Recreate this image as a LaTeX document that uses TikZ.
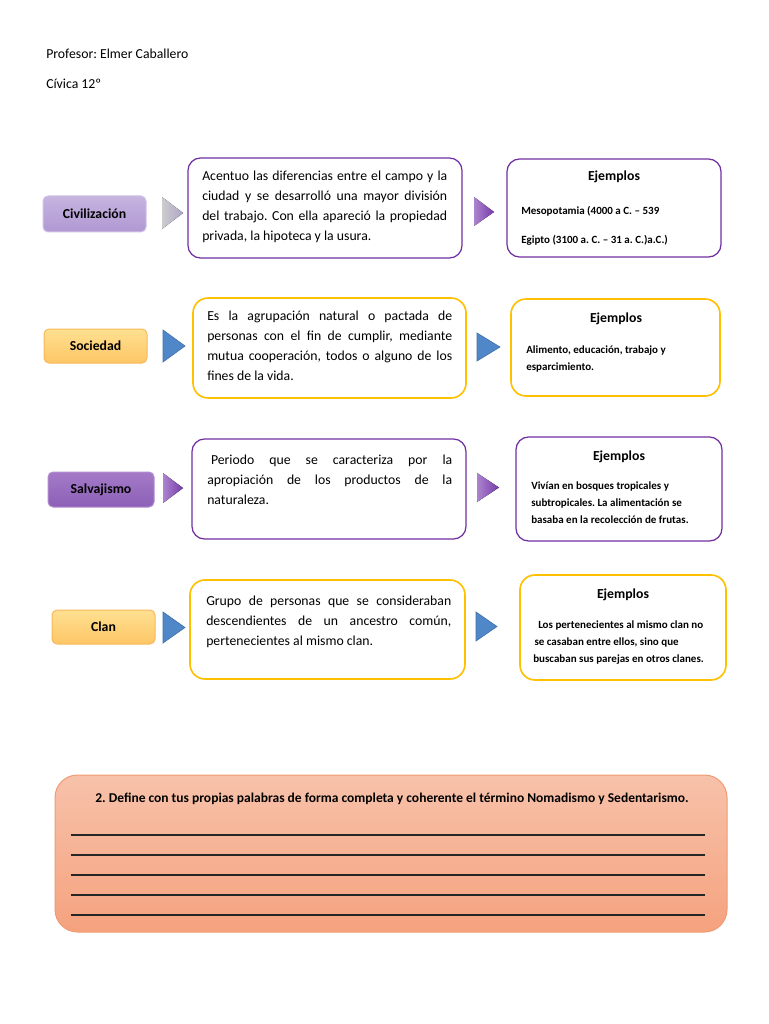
\documentclass[tikz,border=0pt]{standalone}
\usepackage{fontspec}
\setmainfont{Carlito}
\frenchspacing
\hyphenpenalty=10000
\exhyphenpenalty=10000
\definecolor{purp}{RGB}{112,48,160}
\definecolor{gold}{RGB}{255,192,0}
\definecolor{civtop}{RGB}{198,180,224}
\definecolor{civbot}{RGB}{176,152,210}
\definecolor{civdraw}{RGB}{208,194,230}
\definecolor{oratop}{RGB}{255,224,145}
\definecolor{orabot}{RGB}{253,198,102}
\definecolor{oradraw}{RGB}{248,186,88}
\definecolor{saltop}{RGB}{164,122,200}
\definecolor{salbot}{RGB}{140,96,182}
\definecolor{saldraw}{RGB}{178,142,208}
\definecolor{triblue}{RGB}{79,135,200}
\definecolor{triblued}{RGB}{66,114,172}
\definecolor{btop}{RGB}{247,194,170}
\definecolor{bbot}{RGB}{245,162,126}
\definecolor{bdraw}{RGB}{240,155,115}
\newcommand\nbox[7]{\node[#6, minimum width={(#4-#2)*0.8pt}, minimum height={(#5-#3)*0.8pt}] (#1) at ({(#2+#4)/2},{(#3+#5)/2}) {#7};}
\begin{document}
\begin{tikzpicture}[x=0.8pt,y=-0.8pt,
  lab/.style={rounded corners=4pt, inner sep=0pt, font=\bfseries\fontsize{11}{13}\selectfont},
  civlab/.style={lab, top color=civtop, bottom color=civbot, draw=civdraw, line width=0.8pt},
  oralab/.style={lab, top color=oratop, bottom color=orabot, draw=oradraw, line width=0.8pt},
  sallab/.style={lab, top color=saltop, bottom color=salbot, draw=saldraw, line width=0.8pt},
  pbox/.style={draw=purp, line width=1pt, fill=white, rounded corners=10pt, inner sep=0pt},
  gbox/.style={draw=gold, line width=1.3pt, fill=white, rounded corners=12pt, inner sep=0pt},
  desc/.style={anchor=north west, inner sep=0pt, text width=196pt, align=justify, font=\fontsize{11}{16}\selectfont},
  ejh/.style={anchor=base, inner sep=0pt, font=\bfseries\fontsize{11}{13}\selectfont},
  ejt/.style={anchor=north west, inner sep=0pt, align=left, font=\bfseries\fontsize{8.8}{13.6}\selectfont},
  gtri/.style={left color=black!20, right color={rgb,255:red,175;green,165;blue,200}},
  ptri/.style={left color={rgb,255:red,172;green,132;blue,206}, right color={rgb,255:red,118;green,58;blue,170}},
  btri/.style={fill=triblue, draw=triblued, line width=0.5pt},
  hdr/.style={anchor=base west, inner sep=0pt, font=\fontsize{11}{13}\selectfont}
]
\useasboundingbox[fill=white] (0,0) rectangle (768,1024);

% header
\node[hdr] (prof) at (46,59) {Profesor: Elmer Caballero};
\node[hdr] (civica) at (46,89) {Cívica 12º};

% row 1
\nbox{civ}{43}{196}{146}{232}{civlab}{Civilización}
\nbox{d1}{188}{158}{462}{258}{pbox}{}
\nbox{e1}{507}{159}{721}{257}{pbox}{}
\node[desc] (t1) at (202,171) {Acentuo las diferencias entre el campo y la\linebreak ciudad y se desarrolló una mayor división\linebreak del trabajo. Con ella apareció la propiedad\linebreak privada, la hipoteca y la usura.};
\node[ejh] (h1) at (614,181) {Ejemplos};
\node[ejt, font=\bfseries\fontsize{8.8}{23.2}\selectfont] (x1) at (521,206) {Mesopotamia (4000 a C. – 539\\Egipto (3100 a. C. – 31 a. C.)a.C.)};
\fill[gtri] (162,197) -- (183,213) -- (162,229) -- cycle;
\fill[ptri] (474,197) -- (494,212) -- (474,226) -- cycle;

% row 2
\nbox{soc}{44}{329}{147}{363}{oralab}{Sociedad}
\nbox{d2}{193}{298}{466}{398}{gbox}{}
\nbox{e2}{511}{299}{720}{396}{gbox}{}
\node[desc] (t2) at (207,311) {Es la agrupación natural o pactada de\linebreak personas con el fin de cumplir, mediante\linebreak mutua cooperación, todos o alguno de los\linebreak fines de la vida.};
\node[ejh] (h2) at (616,322) {Ejemplos};
\node[ejt] (x2) at (526,346) {Alimento, educación, trabajo y\\esparcimiento.};
\filldraw[btri] (163,330) -- (185,346) -- (163,362) -- cycle;
\filldraw[btri] (477,333) -- (500,347) -- (477,361) -- cycle;

% row 3
\nbox{sal}{48}{472}{154}{507}{sallab}{Salvajismo}
\nbox{d3}{192}{439}{466}{539}{pbox}{}
\nbox{e3}{516}{437}{722}{541}{pbox}{}
\node[desc] (t3) at (207,455) {\hspace*{3pt}Periodo que se caracteriza por la\linebreak apropiación de los productos de la\linebreak naturaleza.};
\node[ejh] (h3) at (619,460) {Ejemplos};
\node[ejt] (x3) at (531,482) {Vivían en bosques tropicales y\\subtropicales. La alimentación se\\basaba en la recolección de frutas.};
\fill[ptri] (163,473) -- (183,488) -- (163,503) -- cycle;
\fill[ptri] (477,473) -- (499,487.5) -- (477,502) -- cycle;

% row 4
\nbox{clan}{52}{610}{155}{644}{oralab}{Clan}
\nbox{d4}{190}{580}{465}{679}{gbox}{}
\nbox{e4}{520}{575}{726}{680}{gbox}{}
\node[desc] (t4) at (206,596) {Grupo de personas que se consideraban\linebreak descendientes de un ancestro común,\linebreak pertenecientes al mismo clan.};
\node[ejh] (h4) at (623,598) {Ejemplos};
\node[ejt] (x4) at (533,621) {\hspace*{4pt}Los pertenecientes al mismo clan no\\\hspace*{1pt}se casaban entre ellos, sino que\\buscaban sus parejas en otros clanes.};
\filldraw[btri] (163,612) -- (185,627.5) -- (163,643) -- cycle;
\filldraw[btri] (476,612) -- (497,626.5) -- (476,641) -- cycle;

% bottom
\nbox{q}{55}{775}{727}{932}{rounded corners=18pt, top color=btop, bottom color=bbot, draw=bdraw, line width=0.8pt}{}
\node[anchor=base, inner sep=0pt, font=\bfseries\fontsize{10.8}{13}\selectfont] (qt) at (392,802) {2. Define con tus propias palabras de forma completa y coherente el término Nomadismo y Sedentarismo.};
\foreach \yy in {835,855,875,895,915} {
  \draw[line width=0.9pt, black!85] (71,\yy) -- (705,\yy);
}
\end{tikzpicture}
\end{document}
